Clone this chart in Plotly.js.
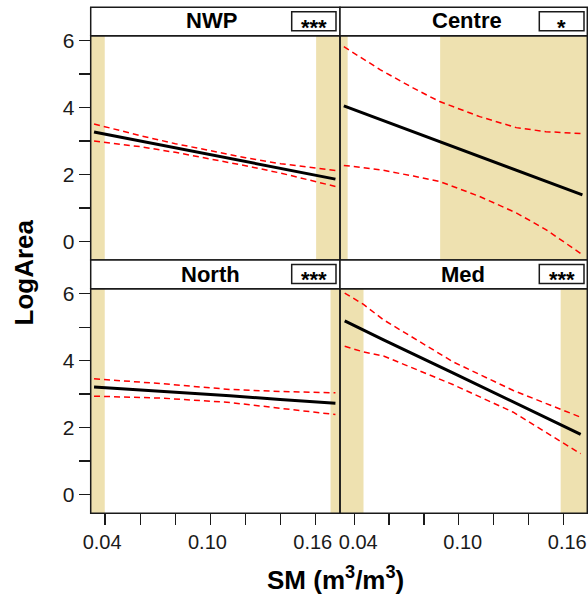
<!DOCTYPE html>
<html>
<head>
<meta charset="utf-8">
<script src="https://cdn.plot.ly/plotly-3.0.1.min.js"></script>
<style>html,body{margin:0;padding:0;background:#fff;}#chart{width:588px;height:601px;}</style>
</head>
<body>
<div id="chart"></div>
<script>
// ---- data ----
const panelNames = ["NWP", "Centre", "North", "Med"];
const panelStars = ["***", "*", "***", "***"];

const nwpX     = [0.0337, 0.060, 0.080, 0.100, 0.120, 0.140, 0.1712];
const nwpFit   = [3.27, 3.00, 2.79, 2.59, 2.38, 2.18, 1.86];
const nwpUpper = [3.51, 3.16, 2.92, 2.70, 2.50, 2.32, 2.12];
const nwpLower = [3.00, 2.83, 2.66, 2.47, 2.26, 2.04, 1.64];

const centreX     = [0.034, 0.055, 0.074, 0.089, 0.112, 0.133, 0.150, 0.171];
const centreFit   = [4.05, 3.64, 3.28, 2.99, 2.54, 2.13, 1.80, 1.39];
const centreUpper = [5.82, 5.13, 4.58, 4.18, 3.73, 3.40, 3.28, 3.22];
const centreLower = [2.27, 2.14, 1.95, 1.79, 1.34, 0.85, 0.35, -0.40];

const northX     = [0.0337, 0.0728, 0.1111, 0.1397, 0.1712];
const northFit   = [3.21, 3.09, 2.95, 2.84, 2.73];
const northUpper = [3.46, 3.31, 3.14, 3.08, 3.04];
const northLower = [2.94, 2.88, 2.75, 2.58, 2.39];

const medX     = [0.0345, 0.0453, 0.0568, 0.0969, 0.1313, 0.1700];
const medFit   = [5.19, 4.91, 4.62, 3.63, 2.77, 1.80];
const medUpper = [6.02, 5.68, 5.22, 3.96, 3.11, 2.31];
const medLower = [4.43, 4.26, 4.14, 3.28, 2.46, 1.22];

// shaded (sparse-data) regions: end of left band, start of right band
const shadeLeftEnd    = [0.0398, 0.0362, 0.0398, 0.0453];
const shadeRightStart = [0.1602, 0.0893, 0.1684, 0.1585];

const yTickVals  = [0, 2, 4, 6];
const yTickText  = ["0", "2", "4", "6"];
const yMinorVals = [1, 3, 5];
const xTickVals  = [0.04, 0.10, 0.16];
const xTickText  = ["0.04", "0.10", "0.16"];
const xMinorVals = [0.06, 0.08, 0.12, 0.14];

// ---- layout helpers ----
const W = 588, H = 601;
const px = v => v / W;
const py = v => 1 - v / H;
const xRange = [0.0318, 0.1738];
const yRange = [-0.56, 6.15];
const FONT = "Liberation Sans, Arial, sans-serif";
const LINEC = "#1a1a1a";
const SHADE = "#EEE1B0";

const colX = [[90.7, 340], [340, 587.3]];
const rowY = [[35.7, 260], [288.7, 513.3]];
const stripY = [[7.3, 35.7], [260, 288.7]];
const labelShift = [-3, 4];

const panelData = [
  [nwpX, nwpFit, nwpUpper, nwpLower],
  [centreX, centreFit, centreUpper, centreLower],
  [northX, northFit, northUpper, northLower],
  [medX, medFit, medUpper, medLower]
];

const traces = [];
const shapes = [];
const annotations = [];
const layout = {
  width: W, height: H,
  margin: {l: 0, r: 0, t: 0, b: 0},
  paper_bgcolor: "#fff", plot_bgcolor: "#fff",
  showlegend: false,
  font: {family: FONT, color: LINEC}
};

const titleCenters = [[211.7, 20.5], [466.7, 20.5], [210.8, 274.7], [463.3, 274.7]];
const starBoxes = [[291.7, 336], [539.3, 584]];

for (let i = 0; i < 4; i++) {
  const row = Math.floor(i / 2), col = i % 2;
  const sfx = i === 0 ? "" : String(i + 1);
  const xa = "x" + sfx, ya = "y" + sfx;
  const isBottom = row === 1, isLeft = col === 0;

  const xax = {
    domain: [px(colX[col][0]), px(colX[col][1])],
    range: xRange, anchor: ya,
    showgrid: false, zeroline: false, showline: false,
    ticks: isBottom ? "outside" : "", ticklen: 11, tickwidth: 1.3, tickcolor: LINEC,
    showticklabels: isBottom,
    tickfont: {family: FONT, size: 20, color: "#1a1a1a"}
  };
  if (isBottom) {
    xax.tickmode = "array"; xax.tickvals = xTickVals; xax.ticktext = xTickText;
    xax.ticklabelshift = labelShift[col];
    xax.ticklabeloverflow = "allow";
    xax.minor = {tickvals: xMinorVals, ticks: "outside", ticklen: 11, tickwidth: 1.3, tickcolor: LINEC};
  }
  layout["xaxis" + sfx] = xax;

  const yax = {
    domain: [py(rowY[row][1]), py(rowY[row][0])],
    range: yRange, anchor: xa,
    showgrid: false, zeroline: false, showline: false,
    ticks: isLeft ? "outside" : "", ticklen: 11, tickwidth: 1.3, tickcolor: LINEC,
    showticklabels: isLeft,
    tickfont: {family: FONT, size: 21, color: "#1a1a1a"}
  };
  if (isLeft) {
    yax.tickmode = "array"; yax.tickvals = yTickVals; yax.ticktext = yTickText;
    yax.minor = {tickvals: yMinorVals, ticks: "outside", ticklen: 11, tickwidth: 1.3, tickcolor: LINEC};
  }
  layout["yaxis" + sfx] = yax;

  // shaded bands
  shapes.push({type: "rect", xref: xa, yref: ya + " domain", x0: xRange[0], x1: shadeLeftEnd[i], y0: 0, y1: 1,
               fillcolor: SHADE, line: {width: 0}, layer: "below"});
  shapes.push({type: "rect", xref: xa, yref: ya + " domain", x0: shadeRightStart[i], x1: xRange[1], y0: 0, y1: 1,
               fillcolor: SHADE, line: {width: 0}, layer: "below"});

  const [dx, fit, up, lo] = panelData[i];
  traces.push({x: dx, y: up, xaxis: xa, yaxis: ya, mode: "lines", line: {color: "#ff0000", width: 1.5, dash: "6px,4px"}, hoverinfo: "skip"});
  traces.push({x: dx, y: lo, xaxis: xa, yaxis: ya, mode: "lines", line: {color: "#ff0000", width: 1.5, dash: "6px,4px"}, hoverinfo: "skip"});
  traces.push({x: dx, y: fit, xaxis: xa, yaxis: ya, mode: "lines", line: {color: "#000", width: 3}, hoverinfo: "skip"});

  // panel border
  shapes.push({type: "rect", xref: "paper", yref: "paper", layer: "above",
               x0: px(colX[col][0]), x1: px(colX[col][1]), y0: py(rowY[row][1]), y1: py(rowY[row][0]),
               line: {color: LINEC, width: 1.5}});
  // strip
  shapes.push({type: "rect", xref: "paper", yref: "paper", layer: "above",
               x0: px(colX[col][0]), x1: px(colX[col][1]), y0: py(stripY[row][1]), y1: py(stripY[row][0]),
               fillcolor: "#fff", line: {color: LINEC, width: 1.5}});
  // star box
  const sb = starBoxes[col];
  const sy0 = stripY[row][0] + 4.4, sy1 = stripY[row][0] + 23.4;
  shapes.push({type: "rect", xref: "paper", yref: "paper", layer: "above",
               x0: px(sb[0]), x1: px(sb[1]), y0: py(sy1), y1: py(sy0),
               fillcolor: "#fff", line: {color: LINEC, width: 1.5}});
  annotations.push({xref: "paper", yref: "paper", x: px((sb[0] + sb[1]) / 2), y: py((sy0 + sy1) / 2 + 6),
                    text: "<b>" + panelStars[i] + "</b>", showarrow: false, xanchor: "center", yanchor: "middle",
                    font: {family: FONT, size: 22, color: "#000"}});
  annotations.push({xref: "paper", yref: "paper", x: px(titleCenters[i][0]), y: py(titleCenters[i][1]),
                    text: "<b>" + panelNames[i] + "</b>", showarrow: false, xanchor: "center", yanchor: "middle",
                    font: {family: FONT, size: 22, color: "#000"}});
}

annotations.push({xref: "paper", yref: "paper", x: px(23), y: py(272.5), text: "<b>LogArea</b>", textangle: -90,
                  showarrow: false, xanchor: "center", yanchor: "middle", font: {family: FONT, size: 26, color: "#000"}});
annotations.push({xref: "paper", yref: "paper", x: px(335), y: py(578), text: "<b>SM (m<sup>3</sup>/m<sup>3</sup>)</b>",
                  showarrow: false, xanchor: "center", yanchor: "middle", font: {family: FONT, size: 26, color: "#000"}});

layout.shapes = shapes;
layout.annotations = annotations;

Plotly.newPlot("chart", traces, layout, {staticPlot: true, displayModeBar: false});
</script>
</body>
</html>
